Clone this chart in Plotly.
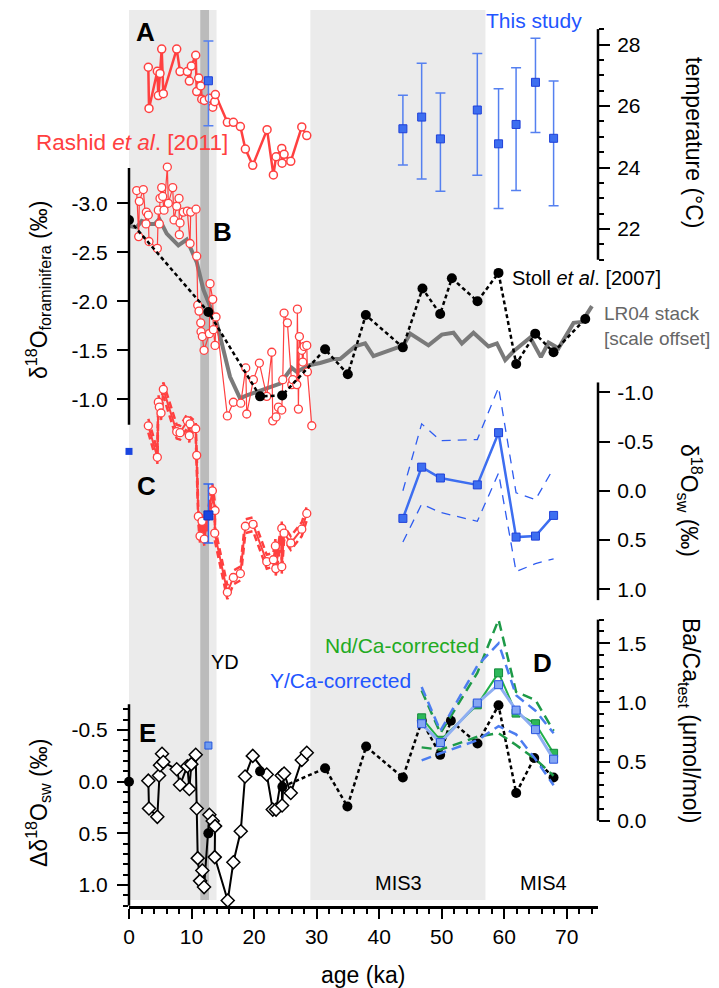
import plotly.graph_objects as go

# ---------------- data ----------------
# Panel A: temperature (This study)
study_age = [43.8, 46.8, 49.8, 55.7, 59.1, 61.9, 65.0, 67.9]
study_temp = [25.26, 25.64, 24.93, 25.87, 24.77, 25.40, 26.77, 24.95]
study_temp_hi = [26.35, 27.39, 26.42, 27.71, 26.56, 27.24, 28.20, 26.81]
study_temp_lo = [24.08, 23.63, 23.23, 23.75, 22.67, 23.25, 25.14, 22.76]
yd_age = [12.7]
yd_temp = [26.82]
yd_temp_hi = [28.11]
yd_temp_lo = [25.36]

# Panel A: Rashid et al. [2011] temperature
rashid_t_age = [3.09, 3.2, 4.53, 4.69, 4.96, 5.23, 5.49, 7.63, 8.16, 9.33, 9.65, 9.97, 10.67,
                10.83, 11.15, 11.47, 11.63, 12.05, 12.85, 13.39, 13.71, 13.81, 15.73, 16.69,
                17.81, 18.61, 19.79, 22.08, 23.09, 23.52, 24.43, 24.48, 24.8, 25.87, 27.63, 28.43]
rashid_t = [27.26, 25.92, 27.13, 26.34, 27.06, 27.85, 26.40, 27.85, 27.12, 27.12, 26.81, 27.30, 27.65,
            26.47, 26.91, 26.65, 26.22, 26.18, 26.25, 25.96, 26.14, 26.37, 25.47, 25.47,
            25.33, 24.60, 24.07, 25.23, 23.76, 24.35, 24.62, 24.14, 24.43, 24.20, 25.32, 25.04]

# Panel B: Rashid et al. [2011] d18O foraminifera
rashid_f_age = [1.23, 1.55, 1.65, 2.29, 2.72, 2.78, 3.09, 3.2, 4.53, 4.69, 4.85, 4.96, 5.23, 5.39,
                5.6, 6.13, 6.29, 6.99, 7.2, 7.63, 8.0, 8.05, 8.16, 8.69, 9.33, 9.76, 9.87, 10.72,
                10.83, 10.99, 11.2, 11.47, 11.52, 11.73, 12.0, 12.85, 12.96, 13.39, 13.49, 13.76,
                13.92, 15.73, 16.69, 17.87, 18.67, 18.83, 19.89, 20.85, 22.03, 22.83, 22.99, 23.52,
                23.89, 24.43, 24.59, 24.8, 25.33, 26.03, 26.19, 26.83, 26.93, 27.09, 27.25, 27.63,
                27.79, 28.0, 28.43, 28.53, 29.23]
rashid_f = [-3.13, -2.66, -3.02, -3.14, -2.79, -2.91, -2.88, -2.61, -2.54, -2.93, -2.79, -3.05, -3.16, -3.07,
            -2.93, -3.37, -3.0, -3.16, -2.83, -2.97, -3.05, -2.68, -2.80, -2.91, -2.92, -2.59, -2.91, -2.94,
            -2.46, -1.96, -1.90, -1.78, -1.69, -1.64, -1.50, -1.67, -2.18, -2.02, -1.71, -1.55,
            -1.84, -0.83, -0.97, -0.96, -1.32, -0.85, -1.20, -1.37, -1.03, -1.48, -0.78, -0.82,
            -0.92, -0.89, -1.20, -1.88, -1.78, -1.15, -1.20, -1.15, -1.92, -0.90, -1.64, -1.50,
            -1.38, -1.54, -1.55, -1.28, -0.73]

# Panel B: Stoll et al. [2007]
stoll_age = [0.0, 12.69, 20.96, 24.5, 31.36, 34.99, 37.87, 43.79, 46.93, 49.76, 51.63, 55.73,
             59.09, 61.92, 64.96, 67.89, 72.96]
stoll_f = [-2.83, -1.89, -1.03, -1.04, -1.51, -1.255, -1.86, -1.53, -2.13, -1.87, -2.235, -2.0,
           -2.29, -1.36, -1.67, -1.48, -1.82]

# Panel B: LR04 stack (scale offset)
lr04_age = [0.0, 1.23, 2.03, 3.36, 4.16, 4.85, 6.03, 7.89, 9.23, 10.83, 11.89, 12.96, 14.03, 16.16,
            17.76, 18.83, 22.03, 24.16, 26.03, 26.83, 28.96, 30.56, 32.69, 33.76, 36.16, 37.76,
            39.09, 41.76, 43.89, 44.96, 47.89, 50.03, 51.89, 53.23, 55.09, 57.49, 58.83, 60.16,
            61.49, 64.16, 65.87, 67.09, 68.69, 71.09, 72.43, 74.03]
lr04 = [-2.77, -2.755, -2.82, -2.79, -2.79, -2.84, -2.69, -2.57, -2.63, -2.40, -2.12, -1.94, -1.78, -1.23,
        -1.01, -1.04, -1.11, -1.16, -1.32, -1.28, -1.35, -1.37, -1.41, -1.41, -1.54, -1.57,
        -1.44, -1.50, -1.55, -1.67, -1.55, -1.66, -1.68, -1.57, -1.68, -1.54, -1.57, -1.40,
        -1.49, -1.63, -1.43, -1.58, -1.52, -1.78, -1.79, -1.95]

# Panel C: d18O seawater
rashid_sw_age = [3.09, 4.53, 4.69, 4.85, 5.12, 5.49, 7.63, 8.16, 9.33, 9.65, 9.76, 10.67, 10.83,
                 11.09, 11.36, 11.68, 12.05, 13.33, 13.76, 13.71, 15.73, 16.69, 17.81, 18.61, 19.84,
                 22.03, 23.09, 23.41, 23.47, 24.43, 24.43, 24.8, 25.87, 27.63, 28.43]
rashid_sw = [-0.66, -0.34, -0.90, -0.85, -0.79, -1.03, -0.60, -0.59, -0.71, -0.56, -0.68, -0.63, -0.36,
             0.26, 0.46, 0.31, 0.49, 0.0, 0.20, 0.43, 1.03, 0.88, 0.84, 0.36, 0.34,
             0.72, 0.70, 0.56, 0.79, 0.38, 0.77, 0.43, 0.53, 0.39, 0.23]
rashid_sw_err = 0.07
study_sw = [0.28, -0.24, -0.13, -0.06, -0.59, 0.47, 0.46, 0.25]
study_sw_hi = [0.00, -0.68, -0.51, -0.52, -1.05, 0.02, 0.09, -0.23]
study_sw_lo = [0.52, 0.135, 0.22, 0.31, -0.18, 0.82, 0.74, 0.69]
yd_sw = [0.25]
yd_sw_hi = [-0.07]
yd_sw_lo = [0.53]
modern_age = [0.0]
modern_sw = [-0.40]

# Panel D: Ba/Ca test
d_age = [46.8, 49.8, 55.7, 59.1, 61.9, 65.0, 67.9]
ba_nd = [0.87, 0.68, 0.98, 1.25, 0.91, 0.82, 0.57]
ba_nd_hi = [1.10, 0.74, 1.25, 1.70, 1.09, 1.02, 0.76]
ba_nd_lo = [0.62, 0.60, 0.71, 0.74, 0.64, 0.52, 0.38]
ba_y = [0.82, 0.66, 0.995, 1.15, 0.935, 0.77, 0.52]
ba_y_hi = [1.13, 0.76, 1.31, 1.50, 1.06, 0.93, 0.74]
ba_y_lo = [0.51, 0.57, 0.68, 0.80, 0.73, 0.52, 0.30]

# Panel E: delta d18O seawater
rashid_e_age = [3.09, 3.2, 4.53, 4.8, 4.96, 5.28, 5.49, 7.63, 8.16, 9.33, 9.65, 9.97, 10.67, 10.83,
                10.99, 11.36, 11.73, 12.0, 12.85, 13.39, 13.76, 13.71, 15.79, 16.69, 17.87, 18.56,
                19.79, 22.03, 22.99, 23.52, 24.43, 24.48, 24.8, 25.87, 27.63, 28.43]
rashid_e = [-0.01, 0.26, 0.34, -0.06, -0.16, -0.27, -0.19, -0.12, 0.03, -0.15, 0.07, -0.17, -0.26, 0.26,
            0.74, 0.96, 0.86, 1.02, 0.32, 0.38, 0.43, 0.73, 1.15, 0.78, 0.48, -0.05,
            -0.25, -0.07, 0.27, 0.27, -0.06, 0.23, -0.08, 0.11, -0.21, -0.28]
# Stoll et al. [2007] in panel E: isolated early points, then a connected series
stoll_e_pts_age = [0.0, 12.69, 20.96]
stoll_e_pts = [0.0, 0.50, -0.10]
stoll_e_age = [24.53, 31.36, 34.93, 37.92, 43.79, 46.83, 49.76, 51.47, 55.73,
               59.09, 61.92, 64.8, 67.89]
stoll_e = [0.05, -0.13, 0.24, -0.34, -0.04, -0.59, -0.26, -0.59, -0.37,
           -0.74, 0.11, -0.23, -0.04]
yd_e = [-0.35]

# shaded intervals (ka)
shade_light = [(0.0, 14.0), (29.0, 57.0)]
shade_yd = (11.4, 12.8)

# ---------------- layout helpers ----------------
FONT = "Liberation Sans, Arial, sans-serif"
L, R, TOP, BOT, W, H = 129, 121, 10, 906, 719, 988
PW = W - L - R
PH = BOT - TOP

RED = "#FF4040"
BLUE = "#3D6EF0"
BLUE_D = "#1F40D8"
TICK = 21
TITLE = 23
LAB = 21
LET = 26


def px2paper(px, py):
    return (px - L) / PW, (BOT - py) / PH


def axis_range(v1, p1, v2, p2):
    s = (v2 - v1) / (p2 - p1)
    return [v1 + (BOT - p1) * s, v1 + (TOP - p1) * s]


def ann(text, px, py, size=LAB, color="black", angle=0, xanchor="center"):
    x, y = px2paper(px, py)
    return dict(text=text, x=x, y=y, xref="paper", yref="paper", showarrow=False,
                textangle=angle, xanchor=xanchor, yanchor="middle",
                font=dict(size=size, color=color, family=FONT))


def frange(a, b, step):
    out = []
    v = a
    while v <= b + 1e-9:
        out.append(round(v, 4))
        v += step
    return out


fig = go.Figure()

# ---- Panel A ----
fig.add_trace(go.Scatter(x=rashid_t_age, y=rashid_t, yaxis="y2", mode="lines+markers",
                         line=dict(color=RED, width=2.5),
                         marker=dict(symbol="circle", size=8, color="white",
                                     line=dict(color=RED, width=1.5))))
fig.add_trace(go.Scatter(x=study_age, y=study_temp, yaxis="y2", mode="markers",
                         marker=dict(symbol="square", size=8, color=BLUE, line=dict(color=BLUE_D, width=1)),
                         error_y=dict(type="data", symmetric=False,
                                      array=[h - v for h, v in zip(study_temp_hi, study_temp)],
                                      arrayminus=[v - l for l, v in zip(study_temp_lo, study_temp)],
                                      color="#5580F0", thickness=1.5, width=5)))
fig.add_trace(go.Scatter(x=yd_age, y=yd_temp, yaxis="y2", mode="markers",
                         marker=dict(symbol="square", size=8, color=BLUE, line=dict(color=BLUE_D, width=1)),
                         error_y=dict(type="data", symmetric=False,
                                      array=[yd_temp_hi[0] - yd_temp[0]],
                                      arrayminus=[yd_temp[0] - yd_temp_lo[0]],
                                      color="#5580F0", thickness=1.5, width=5)))

# ---- Panel B ----
fig.add_trace(go.Scatter(x=lr04_age, y=lr04, yaxis="y3", mode="lines",
                         line=dict(color="#7A7A7A", width=4)))
fig.add_trace(go.Scatter(x=rashid_f_age, y=rashid_f, yaxis="y3", mode="lines+markers",
                         line=dict(color=RED, width=1.2),
                         marker=dict(symbol="circle", size=8, color="white",
                                     line=dict(color=RED, width=1.3))))
fig.add_trace(go.Scatter(x=stoll_age, y=stoll_f, yaxis="y3", mode="lines+markers",
                         line=dict(color="black", width=2.5, dash="4px,3px"),
                         marker=dict(symbol="circle", size=10, color="black")))

# ---- Panel C ----
for sgn in (-1, 1):
    fig.add_trace(go.Scatter(x=rashid_sw_age, y=[v + sgn * rashid_sw_err for v in rashid_sw], yaxis="y4",
                             mode="lines", line=dict(color=RED, width=2.5, dash="7px,4px")))
fig.add_trace(go.Scatter(x=rashid_sw_age, y=rashid_sw, yaxis="y4", mode="lines+markers",
                         line=dict(color=RED, width=2),
                         marker=dict(symbol="circle", size=8, color="white",
                                     line=dict(color=RED, width=1.3))))
for env in (study_sw_hi, study_sw_lo):
    fig.add_trace(go.Scatter(x=study_age, y=env, yaxis="y4", mode="lines",
                             line=dict(color="#2E5CF0", width=1.3, dash="9px,7px")))
fig.add_trace(go.Scatter(x=study_age, y=study_sw, yaxis="y4", mode="lines+markers",
                         line=dict(color=BLUE, width=2.5),
                         marker=dict(symbol="square", size=8, color=BLUE, line=dict(color=BLUE_D, width=1))))
fig.add_trace(go.Scatter(x=yd_age, y=yd_sw, yaxis="y4", mode="markers",
                         marker=dict(symbol="square", size=9, color="#1A45E0", line=dict(color="#1030C0", width=1)),
                         error_y=dict(type="data", symmetric=False,
                                      array=[yd_sw_lo[0] - yd_sw[0]],
                                      arrayminus=[yd_sw[0] - yd_sw_hi[0]],
                                      color="#3366EE", thickness=1.5, width=5)))
fig.add_trace(go.Scatter(x=modern_age, y=modern_sw, yaxis="y4", mode="markers", cliponaxis=False,
                         marker=dict(symbol="square", size=7, color="#1A45E0")))

# ---- Panel E ----
fig.add_trace(go.Scatter(x=rashid_e_age, y=rashid_e, yaxis="y", mode="lines+markers",
                         line=dict(color="black", width=2),
                         marker=dict(symbol="diamond", size=10, color="white",
                                     line=dict(color="black", width=1.5))))
fig.add_trace(go.Scatter(x=stoll_e_age, y=stoll_e, yaxis="y", mode="lines+markers",
                         line=dict(color="black", width=2.5, dash="4px,3px"),
                         marker=dict(symbol="circle", size=10, color="black")))
fig.add_trace(go.Scatter(x=stoll_e_pts_age, y=stoll_e_pts, yaxis="y", mode="markers", cliponaxis=False,
                         marker=dict(symbol="circle", size=10, color="black")))
fig.add_trace(go.Scatter(x=yd_age, y=yd_e, yaxis="y", mode="markers",
                         marker=dict(symbol="square", size=7, color="#6E9BF0", line=dict(color="#2255DD", width=1))))

# ---- Panel D ----
fig.add_trace(go.Scatter(x=d_age, y=ba_nd_hi, yaxis="y5", mode="lines",
                         line=dict(color="#1E9A48", width=2.5, dash="10px,6px")))
fig.add_trace(go.Scatter(x=d_age, y=ba_nd_lo, yaxis="y5", mode="lines",
                         line=dict(color="#1E9A48", width=2.5, dash="10px,6px")))
fig.add_trace(go.Scatter(x=d_age, y=ba_y_hi, yaxis="y5", mode="lines",
                         line=dict(color="#4C7DF0", width=2.5, dash="10px,6px")))
fig.add_trace(go.Scatter(x=d_age, y=ba_y_lo, yaxis="y5", mode="lines",
                         line=dict(color="#4C7DF0", width=2.5, dash="10px,6px")))
fig.add_trace(go.Scatter(x=d_age, y=ba_nd, yaxis="y5", mode="lines+markers",
                         line=dict(color="#22B04A", width=2),
                         marker=dict(symbol="square", size=8, color="#2DB85A", line=dict(color="#138A3A", width=1))))
fig.add_trace(go.Scatter(x=d_age, y=ba_y, yaxis="y5", mode="lines+markers",
                         line=dict(color="#8EAEF2", width=3),
                         marker=dict(symbol="square", size=8, color="#84A6F4", line=dict(color="#2A55E0", width=1))))

# ---------------- axes ----------------
tickfont = dict(size=TICK, color="black", family=FONT)


def yax(rng, tickvals, ticktext, side, minor_vals=None):
    d = dict(range=rng, tickvals=tickvals, ticktext=ticktext, ticks="outside", ticklen=11,
             tickwidth=2, tickcolor="black", showline=False, showgrid=False, zeroline=False,
             tickfont=tickfont, side=side, anchor="x", automargin=False, domain=[0, 1],
             ticklabelstandoff=5 if side == "left" else 3)
    if minor_vals:
        d["minor"] = dict(tickvals=minor_vals, ticks="outside", ticklen=5, tickwidth=1.5,
                          tickcolor="black", showgrid=False)
    return d


yE = yax(axis_range(0.0, 781.7, 1.0, 885.0), [-0.5, 0, 0.5, 1.0], ["-0.5", "0.0", "0.5", "1.0"], "left",
         frange(-0.7, 1.2, 0.1))
yA = yax(axis_range(28.0, 44.5, 22.0, 229.0), [22, 24, 26, 28], ["22", "24", "26", "28"], "right",
         frange(21.0, 28.5, 0.5))
yB = yax(axis_range(-3.0, 203.3, -1.0, 399.3), [-3.0, -2.5, -2.0, -1.5, -1.0],
         ["-3.0", "-2.5", "-2.0", "-1.5", "-1.0"], "left")
yC = yax(axis_range(-1.0, 392.3, 1.0, 589.3), [-1.0, -0.5, 0.0, 0.5, 1.0],
         ["-1.0", "-0.5", "0.0", "0.5", "1.0"], "right")
yD = yax(axis_range(0.0, 820.7, 1.5, 643.3), [0.0, 0.5, 1.0, 1.5], ["0.0", "0.5", "1.0", "1.5"], "right",
         frange(0.0, 1.7, 0.1))
for a in (yA, yB, yC, yD):
    a["overlaying"] = "y"

shapes = []
x0p, y0p = px2paper(0, 900)
for a, b in shade_light:
    shapes.append(dict(type="rect", xref="x", yref="paper", x0=a, x1=b, y0=y0p, y1=1,
                       fillcolor="#EBEBEB", line=dict(width=0), layer="below"))
shapes.append(dict(type="rect", xref="x", yref="paper", x0=shade_yd[0], x1=shade_yd[1], y0=y0p, y1=1,
                   fillcolor="#BBBBBB", line=dict(width=0), layer="below"))
axis_lines = [("y2", 1, 21.0, 28.5), ("y3", 0, -3.36, -0.74), ("y4", 1, -1.1, 1.11),
              ("y5", 1, 0.0, 1.7), ("y", 0, -0.75, 1.2)]
for ref, xp, a, b in axis_lines:
    shapes.append(dict(type="line", xref="paper", yref=ref, x0=xp, x1=xp, y0=a, y1=b,
                       line=dict(color="black", width=2.5)))

annotations = [
    ann("<b>A</b>", 145, 32, size=LET),
    ann("<b>B</b>", 222, 232, size=LET),
    ann("<b>C</b>", 146, 486, size=LET),
    ann("<b>D</b>", 542, 663, size=LET),
    ann("<b>E</b>", 147, 733, size=LET),
    ann("This study", 534, 21, color="#2255FF"),
    ann("Rashid <i>et al</i>. [2011]", 34, 142, size=22.5, color=RED, xanchor="left"),
    ann("Stoll <i>et al</i>. [2007]", 510, 278, size=20, xanchor="left"),
    ann("LR04 stack", 602, 313, size=19, color="#666666", xanchor="left"),
    ann("[scale offset]", 602, 338, size=19, color="#666666", xanchor="left"),
    ann("Nd/Ca-corrected", 402, 645, color="#22AA22"),
    ann("Y/Ca-corrected", 340, 680, color="#2255FF"),
    ann("YD", 225, 662, size=20),
    ann("MIS3", 398, 883, size=20),
    ann("MIS4", 543, 883, size=20),
    ann("age (ka)", 363, 975, size=TITLE),
    ann("δ<sup>18</sup>O<sub>foraminifera</sub> (‰)", 38, 290, size=TITLE, angle=-90),
    ann("Δδ<sup>18</sup>O<sub>sw</sub> (‰)", 38, 803, size=TITLE, angle=-90),
    ann("temperature (°C)", 694, 143, size=TITLE, angle=90),
    ann("δ<sup>18</sup>O<sub>sw</sub> (‰)", 690, 500, size=TITLE, angle=90),
    ann("Ba/Ca<sub>test</sub> (μmol/mol)", 690, 720, size=TITLE, angle=90),
]

fig.update_layout(
    width=W, height=H, margin=dict(l=L, r=R, t=TOP, b=H - BOT, pad=0),
    paper_bgcolor="white", plot_bgcolor="rgba(0,0,0,0)", showlegend=False,
    font=dict(family=FONT, size=18, color="black"),
    xaxis=dict(range=[0, 75], tickvals=list(range(0, 71, 10)), ticks="outside", ticklen=10,
               tickwidth=2, tickcolor="black", showline=True, linewidth=2.5, linecolor="black",
               showgrid=False, zeroline=False, tickfont=tickfont, anchor="y", automargin=False,
               minor=dict(tickvals=frange(0, 74, 2), ticks="outside", ticklen=5, tickwidth=1.5,
                          tickcolor="black", showgrid=False)),
    yaxis=yE, yaxis2=yA, yaxis3=yB, yaxis4=yC, yaxis5=yD,
    shapes=shapes, annotations=annotations,
)

fig.write_html("out.html")
